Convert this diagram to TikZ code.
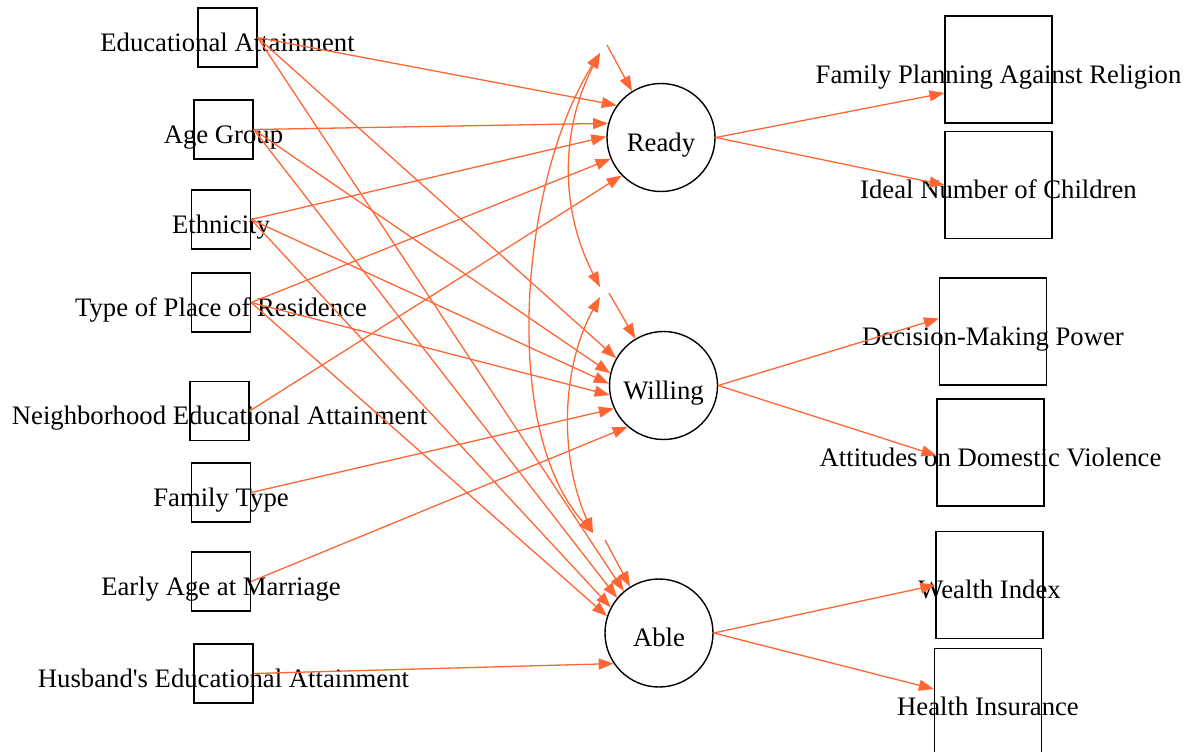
\documentclass[tikz,border=0pt]{standalone}
\usepackage{fontspec}
\setmainfont{Liberation Serif}
\usetikzlibrary{arrows.meta,calc,positioning}
\definecolor{edgeorange}{HTML}{FF6633}
\tikzset{
  >={Triangle[length=7.5pt,width=5.5pt]},
  obsvar/.style={
    rectangle,
    draw=black, line width=0.6pt,
    minimum size=29.5pt,
    inner sep=0pt,
    text height=1.37em, text depth=0pt},
  outvar/.style={obsvar, minimum size=53.5pt},
  latent/.style={
    circle,
    draw=black, line width=0.7pt,
    minimum size=54pt,
    inner sep=0pt,
    text height=1.37em, text depth=0pt},
  regpath/.style={draw=edgeorange, line width=0.65pt, ->},
  covpath/.style={draw=edgeorange, line width=0.65pt, <->},
}

\begin{document}
\begin{tikzpicture}[x=0.5pt,y=-0.5pt,font=\fontsize{13.35}{16}\selectfont]
  \useasboundingbox (0,0) rectangle (1184,751);
  \clip (0,0) rectangle (1184,751);

  % predictors
  \node[obsvar] (edu)   at (227.5,37.5) {\makebox[0pt]{Educational Attainment}};
  \node[obsvar] (age)   at (223.5,129.5) {\makebox[0pt]{Age Group}};
  \node[obsvar] (eth)   at (221,219.5) {\makebox[0pt]{Ethnicity}};
  \node[obsvar] (place) at (221,302.5) {\makebox[0pt]{Type of Place of Residence}};
  \node[obsvar] (neigh) at (219.5,411) {\makebox[0pt]{Neighborhood Educational Attainment}};
  \node[obsvar] (fam)   at (221,492.5) {\makebox[0pt]{Family Type}};
  \node[obsvar] (early) at (221,581.5) {\makebox[0pt]{Early Age at Marriage}};
  \node[obsvar] (husb)  at (223.5,673.5) {\makebox[0pt]{Husband\textquotesingle s Educational Attainment}};

  % latent factors
  \node[latent] (ready)   at (661,137.5) {Ready};
  \node[latent] (willing) at (663.5,385.5) {Willing};
  \node[latent] (able)    at (659,633) {Able};

  % indicators
  \node[outvar] (fpar)   at (998.5,69.5) {\makebox[0pt]{Family Planning Against Religion}};
  \node[outvar] (ideal)  at (998.5,185) {\makebox[0pt]{Ideal Number of Children}};
  \node[outvar] (power)  at (993,331.5) {\makebox[0pt]{Decision-Making Power}};
  \node[outvar] (attit)  at (990.5,452.5) {\makebox[0pt]{Attitudes on Domestic Violence}};
  \node[outvar] (wealth) at (989.5,585) {\makebox[0pt]{Wealth Index}};
  \node[outvar] (health) at (988,702) {\makebox[0pt]{Health Insurance}};

  % ends of the covariance curves
  \coordinate (readytop)  at (600,53);
  \coordinate (readystub) at (607,45);
  \coordinate (willtop)   at (600,287);
  \coordinate (willbot)   at (600,297);
  \coordinate (willstub)  at (609,293);
  \coordinate (abletop)   at (593,533);
  \coordinate (ablestub)  at (605,540);

  % regressions on Ready
  \draw[regpath] (readystub) -- (ready.122);
  \draw[regpath] (edu.east) -- (ready.144);
  \draw[regpath] (age.east) -- (ready.165);
  \draw[regpath] (eth.east) -- (ready.179);
  \draw[regpath] (place.east) -- (ready.203);
  \draw[regpath] (neigh.east) -- (ready.224);

  % regressions on Willing
  \draw[regpath] (willstub) -- (willing.121);
  \draw[regpath] (edu.east) -- (willing.150);
  \draw[regpath] (age.east) -- (willing.167);
  \draw[regpath] (eth.east) -- (willing.178);
  \draw[regpath] (place.east) -- (willing.190);
  \draw[regpath] (fam.east) -- (willing.205);
  \draw[regpath] (early.east) -- (willing.229);

  % regressions on Able
  \draw[regpath] (ablestub) -- (able.122);
  \draw[regpath] (edu.east) -- (able.130);
  \draw[regpath] (age.east) -- (able.140);
  \draw[regpath] (eth.east) -- (able.152);
  \draw[regpath] (place.east) -- (able.162);
  \draw[regpath] (husb.east) -- (able.214);

  % covariances
  \draw[covpath] (readytop) .. controls +(-40,77) and +(-40,-77) .. (willtop);
  \draw[covpath] (readytop) .. controls +(-80,127) and +(-93,-103) .. (abletop);
  \draw[covpath] (willbot) .. controls +(-40,73) and +(-33,-73) .. (abletop);

  % loadings
  \draw[regpath] (ready.east) -- ($(fpar.west)+(0,23.5)$);
  \draw[regpath] (ready.east) -- (ideal.west);
  \draw[regpath] (willing.east) -- ($(power.west)+(0,-13)$);
  \draw[regpath] (willing.east) -- ($(attit.west)+(0,3)$);
  \draw[regpath] (able.east) -- (wealth.west);
  \draw[regpath] (able.east) -- ($(health.west)+(0,-13)$);
\end{tikzpicture}
\end{document}
